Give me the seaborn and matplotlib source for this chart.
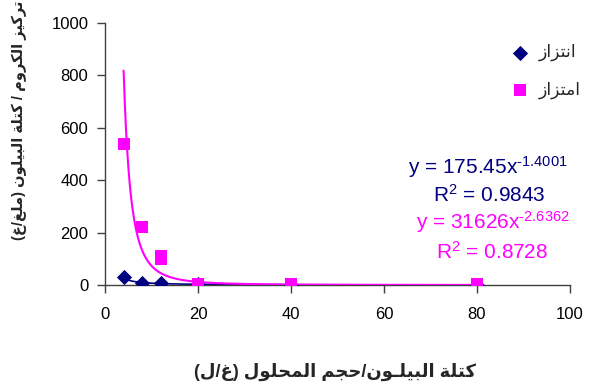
import matplotlib
matplotlib.use("Agg")
import matplotlib.pyplot as plt
import numpy as np
import pandas as pd
import seaborn as sns

# chart data
desorb_x = [4, 8, 12, 20, 40, 80]
desorb_y = [30, 8, 8, 2, 1, 0.5]
adsorb_x = [4, 8, 12, 12, 20, 40, 80]
adsorb_y = [540, 221, 112, 98, 4, 3, 2]

desorb_fit = (175.45, -1.4001)
adsorb_fit = (31626, -2.6362)

desorb_label = "انتزاز"
adsorb_label = "امتزاز"
x_label = "كتلة البيلـون/حجم المحلول (غ/ل)"
y_label = "تركيز الكروم / كتلة البيلون (ملغ/غ)"

eq_lines = [
    ("y = 175.45x$^{\u20101.4001}$", "#000080"),
    ("R$^2$ = 0.9843", "#000080"),
    ("y = 31626x$^{\u20102.6362}$", "#FF00FF"),
    ("R$^2$ = 0.8728", "#FF00FF"),
]

x_ticks = [0, 20, 40, 60, 80, 100]
y_ticks = [0, 200, 400, 600, 800, 1000]


# --- minimal arabic shaping (matplotlib has no bidi / joining) ---
DUAL = {
    "ب": "\ufe8f\ufe90\ufe91\ufe92", "ت": "\ufe95\ufe96\ufe97\ufe98",
    "ج": "\ufe9d\ufe9e\ufe9f\ufea0", "ح": "\ufea1\ufea2\ufea3\ufea4",
    "ك": "\ufed9\ufeda\ufedb\ufedc", "ل": "\ufedd\ufede\ufedf\ufee0",
    "م": "\ufee1\ufee2\ufee3\ufee4", "ن": "\ufee5\ufee6\ufee7\ufee8",
    "ي": "\ufef1\ufef2\ufef3\ufef4", "غ": "\ufecd\ufece\ufecf\ufed0",
    "ـ": "\u0640\u0640\u0640\u0640",
}
RIGHT = {
    "ا": "\ufe8d\ufe8e", "ة": "\ufe93\ufe94", "ر": "\ufead\ufeae",
    "ز": "\ufeaf\ufeb0", "و": "\ufeed\ufeee", "د": "\ufea9\ufeaa",
}
MIRROR = {"(": ")", ")": "("}


def shape(text):
    out = []
    for i, c in enumerate(text):
        prev = text[i - 1] if i > 0 else ""
        nxt = text[i + 1] if i + 1 < len(text) else ""
        join_prev = prev in DUAL and (c in DUAL or c in RIGHT)
        join_next = c in DUAL and (nxt in DUAL or nxt in RIGHT)
        if c in DUAL:
            forms = DUAL[c]
            idx = 3 if (join_prev and join_next) else 1 if join_prev else 2 if join_next else 0
            out.append(forms[idx])
        elif c in RIGHT:
            out.append(RIGHT[c][1 if join_prev else 0])
        else:
            out.append(c)
    return "".join(MIRROR.get(c, c) for c in reversed(out))


sns.set_style("ticks")
plt.rcParams["font.family"] = ["Liberation Sans", "DejaVu Sans"]
plt.rcParams["mathtext.fontset"] = "custom"
plt.rcParams["mathtext.rm"] = "Liberation Sans"
plt.rcParams["mathtext.default"] = "regular"

desorb = pd.DataFrame({"x": desorb_x, "y": desorb_y})
adsorb = pd.DataFrame({"x": adsorb_x, "y": adsorb_y})


def trend(df, fit):
    xs = np.linspace(df["x"].min(), df["x"].max(), 300)
    return pd.DataFrame({"x": xs, "y": fit[0] * xs ** fit[1]})


fig = plt.figure(figsize=(5.89, 3.92), dpi=100)
ax = fig.add_axes([105 / 589, 1 - 285 / 392, 465 / 589, 262 / 392])

sns.lineplot(data=trend(desorb, desorb_fit), x="x", y="y", color="#000080",
             lw=1.2, ax=ax, zorder=2)
sns.scatterplot(data=desorb, x="x", y="y", color="#000080", marker="D", s=60,
                linewidth=0, ax=ax, label=shape(desorb_label), zorder=3)
sns.lineplot(data=trend(adsorb, adsorb_fit), x="x", y="y", color="#FF00FF",
             lw=1.5, ax=ax, zorder=4)
sns.scatterplot(data=adsorb, x="x", y="y", color="#FF00FF", marker="s", s=80,
                linewidth=0, ax=ax, label=shape(adsorb_label), zorder=5)

ax.set_xlim(0, 100)
ax.set_ylim(0, 1000)
ax.set_xticks(x_ticks)
ax.set_yticks(y_ticks)
ax.set_xlabel("")
ax.set_ylabel("")
sns.despine(ax=ax)
for s in ("left", "bottom"):
    ax.spines[s].set_color("#404040")
    ax.spines[s].set_linewidth(1)
ax.tick_params(axis="both", direction="out", length=6, width=1,
               color="#404040", labelsize=12, labelcolor="black")
ax.tick_params(axis="x", pad=10)
ax.tick_params(axis="y", pad=6)

leg = ax.legend(loc="center left", bbox_to_anchor=(0.873, 0.815), frameon=False,
                fontsize=12.5, handlelength=1, handletextpad=0.6, labelspacing=1.15,
                borderpad=0, borderaxespad=0)

eq_pos = [(488, 167), (489, 195), (493, 222), (492, 252)]
for (txt, col), (px, py) in zip(eq_lines, eq_pos):
    fig.text(px / 589, 1 - py / 392, txt, color=col, fontsize=15,
             ha="center", va="center")

fig.text(335 / 589, 1 - 372 / 392, shape(x_label), fontsize=13,
         fontweight="bold", ha="center", va="center")
fig.text(19 / 589, 1 - 120 / 392, shape(y_label), fontsize=10.5,
         fontweight="bold", ha="center", va="center", rotation=90)

fig.savefig("out.png", dpi=100)
